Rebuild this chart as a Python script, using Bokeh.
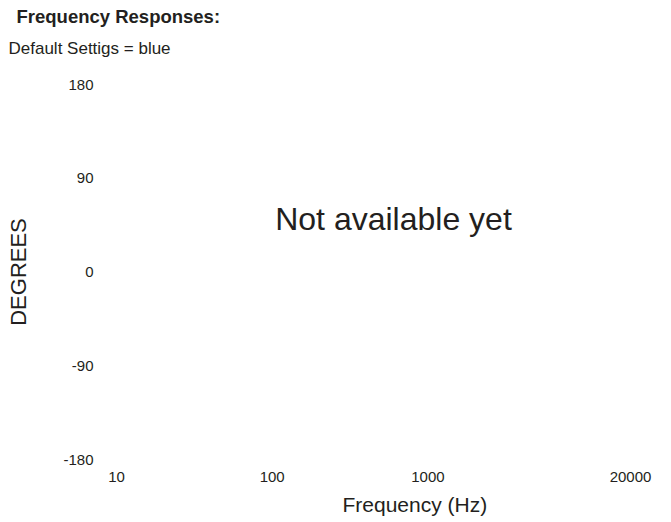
from bokeh.plotting import figure
from bokeh.models import Range1d, FixedTicker, Label, Title
from bokeh.embed import file_html
from bokeh.resources import INLINE

# ---- data ----
title_text = "Frequency Responses:"
subtitle_text = "Default Settigs = blue"
placeholder_text = "Not available yet"
x_label = "Frequency (Hz)"
y_label = "DEGREES"
x_ticks = [10, 100, 1000, 20000]
x_tick_labels = ["10", "100", "1000", "20000"]
y_ticks = [-180, -90, 0, 90, 180]
y_tick_labels = ["-180", "-90", "0", "90", "180"]

FONT = "Liberation Sans"
INK = "#231f20"
W, H = 662, 522
LEFT, TOP, RIGHT, BOTTOM = 116, 84, 32, 62

p = figure(width=W, height=H, x_axis_type="log",
           x_range=Range1d(10, 20000), y_range=Range1d(-180, 180),
           output_backend="svg", toolbar_location=None, title=None,
           min_border_left=LEFT, min_border_right=RIGHT,
           min_border_top=TOP, min_border_bottom=BOTTOM)
p.outline_line_color = None
p.xgrid.visible = False
p.ygrid.visible = False
p.background_fill_color = "white"
p.border_fill_color = "white"

for ax in (p.xaxis[0], p.yaxis[0]):
    ax.axis_line_color = None
    ax.major_tick_line_color = None
    ax.minor_tick_line_color = None
    ax.major_tick_out = 0
    ax.major_tick_in = 0
    ax.minor_tick_out = 0
    ax.major_label_text_font = FONT
    ax.major_label_text_font_size = "15px"
    ax.major_label_text_color = INK
    ax.axis_label_text_font = FONT
    ax.axis_label_text_font_style = "normal"
    ax.axis_label_text_color = INK

p.xaxis[0].ticker = FixedTicker(ticks=x_ticks, minor_ticks=[])
p.xaxis[0].major_label_overrides = {float(v): s for v, s in zip(x_ticks, x_tick_labels)}
p.xaxis[0].major_label_standoff = 12
p.yaxis[0].ticker = FixedTicker(ticks=y_ticks, minor_ticks=[])
p.yaxis[0].major_label_overrides = {float(v): s for v, s in zip(y_ticks, y_tick_labels)}
p.yaxis[0].major_label_standoff = 23
p.yaxis[0].axis_label = y_label
p.yaxis[0].axis_label_text_font_size = "22px"
p.yaxis[0].axis_label_standoff = 29

# x-axis caption, shifted right of the frame centre as in the reference
p.add_layout(Title(text=x_label, align="left", offset=226, standoff=13,
                   text_font=FONT, text_font_size="21px", text_font_style="normal",
                   text_color=INK), "below")

# subtitle first (closest to the frame), then the main title above it
p.add_layout(Title(text=subtitle_text, align="left", offset=-108, standoff=53,
                   text_font=FONT, text_font_size="17px", text_font_style="normal",
                   text_color=INK), "above")
p.add_layout(Title(text=title_text, align="left", offset=-100, standoff=-32,
                   text_font=FONT, text_font_size="18.5px", text_font_style="bold",
                   text_color=INK), "above")

FRAME_BOTTOM = H - BOTTOM
p.add_layout(Label(x=393 - LEFT, y=FRAME_BOTTOM - 219, x_units="screen", y_units="screen",
                   text=placeholder_text, text_font=FONT, text_font_size="32px",
                   text_color=INK, text_align="center", text_baseline="middle"))

open("out.html", "w").write(file_html(p, INLINE))
